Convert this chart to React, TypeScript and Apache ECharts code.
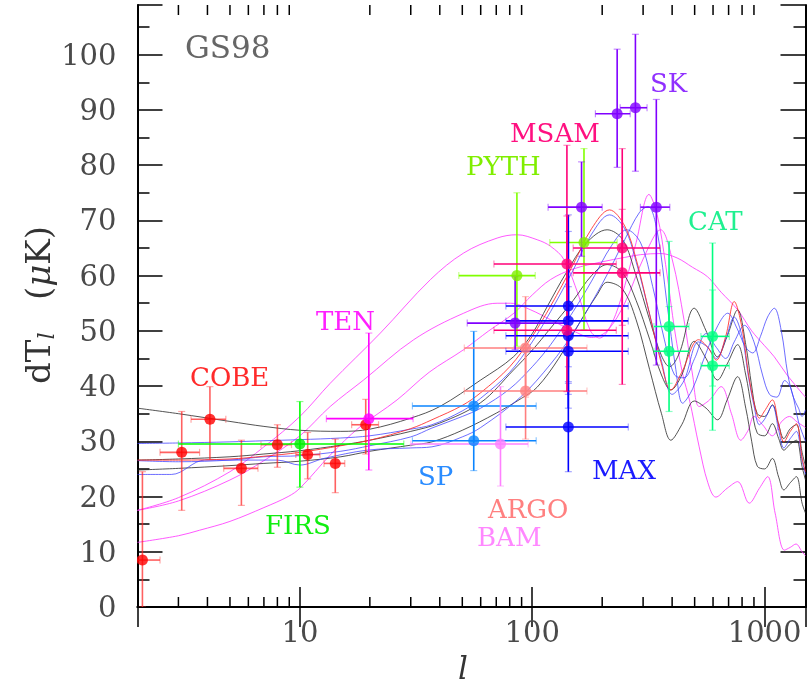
import React, { useEffect, useRef } from 'react';
import * as echarts from 'echarts';

// ---------- axis ticks ----------
const yTickValues = [0, 10, 20, 30, 40, 50, 60, 70, 80, 90, 100];
const xTickLabels = [10, 100, 1000];
const minorTickValues = [3, 4, 5, 6, 7, 8, 9, 20, 30, 40, 50, 60, 70, 80, 90, 200, 300, 400, 500, 600, 700, 800, 900];

// ---------- data points: [l, dT, lLow, lHigh, dTLow, dTHigh] ----------
const cobe = [
  [2.1, 8.5, 2, 2.5, 0, 24.5],
  [3.1, 28.0, 2.5, 3.7, 17.5, 35.4],
  [4.1, 34.0, 3.4, 4.8, 26.7, 39.9],
  [5.6, 25.1, 4.7, 6.6, 18.4, 30.2],
  [8.0, 29.4, 6.8, 9.2, 25.3, 33.0],
  [10.8, 27.6, 9.6, 12.2, 23.2, 31.6],
  [14.2, 26.0, 12.7, 15.6, 20.7, 30.4],
  [19.2, 33.0, 16.7, 21.8, 27.7, 37.6],
];
const firs = [[10, 29.5, 3, 28, 21.7, 37.2]];
const ten = [[19.8, 34.1, 13, 30.7, 24.8, 49.6]];
const sp = [
  [56, 36.4, 30.5, 104, 30, 49.9],
  [56, 30.1, 30.5, 104, 24.7, 36],
];
const bam = [[73, 29.5, 30, 96, 21.9, 39.9]];
const argo = [
  [93.6, 46.9, 51, 172, 38, 56.2],
  [93.6, 39.1, 51, 172, 30.4, 47.5],
];
const maxExp = [
  [143, 54.5, 77, 259, 43.5, 71.0],
  [143, 51.8, 77, 259, 40.8, 68.0],
  [143, 49.1, 77, 259, 38.5, 62.0],
  [143, 46.3, 77, 259, 36.0, 58.0],
  [143, 32.6, 77, 259, 24.5, 40.5],
];
const msam = [
  [141, 62.1, 68.4, 230, 50.5, 83.6],
  [141, 50.1, 68.4, 230, 39.0, 70.8],
  [244, 65.0, 150, 355, 51.0, 83.0],
  [244, 60.5, 150, 355, 40.3, 72.0],
];
const pyth = [
  [85.9, 60.0, 48.3, 103, 47.2, 75.0],
  [167, 66.0, 119, 232, 50.2, 83.0],
];
const sk = [
  [84.4, 51.4, 52.5, 140, 46.6, 59.8],
  [163, 72.4, 117, 200, 63.5, 80.6],
  [232, 89.3, 187, 264, 79.6, 101.0],
  [278, 90.4, 239, 312, 78.9, 103.7],
  [342, 72.4, 292, 391, 43.8, 91.9],
];
const cat = [
  [388, 50.8, 334, 473, 40.5, 66.2],
  [388, 46.3, 334, 473, 35.4, 54.4],
  [597, 49.0, 532, 705, 40.0, 65.9],
  [597, 43.7, 532, 705, 32.0, 57.4],
];

// ---------- model curves: [l, dT] ----------
const curveK1 = [[2,36.0],[3,35.0],[5,33.6],[7,32.7],[10,32.0],[15,31.8],[20,32.2],[30,34.2],[40,36.3],[60,41.1],[83,45.3],[100,49.5],[116,54.4],[140,60.5],[170,65.8],[210,68.3],[245,66.5],[280,60],[320,52],[360,45.5],[390,43.5],[430,46],[498,54.1],[560,50],[627,45.3],[690,49],[765,53.8],[830,47.5],[880,40],[930,35],[1000,34.5],[1080,36.6],[1150,33],[1210,30.5],[1290,32.3],[1370,33],[1450,28],[1500,25.5]];
const curveK2 = [[2,26.6],[3,26.8],[5,27.2],[7,27.7],[10,28.3],[15,29.3],[20,30.2],[30,31.8],[40,33.3],[60,37],[83,42.9],[100,46.5],[120,50.5],[150,55.5],[180,60],[210,62],[245,60.5],[280,55.5],[320,48.5],[360,42],[395,39.3],[440,42],[498,48.1],[560,45],[627,41.1],[690,44],[765,47.5],[830,42],[880,36],[930,31.5],[1000,31],[1080,33.2],[1150,30.5],[1210,28.4],[1290,29.5],[1370,30.2],[1450,25.4],[1500,23]];
const curveK3 = [[2,24.8],[3,25.1],[5,25.6],[7,26],[10,26.4],[15,27.2],[20,28.2],[30,29.3],[37,29.9],[50,32],[70,35.1],[90,37.8],[105,39.8],[130,45],[160,51.5],[190,56.5],[210,58.8],[245,57.5],[280,52],[320,43],[360,35],[395,30.2],[440,33],[498,37.3],[560,36],[627,33.9],[690,37.5],[765,41.7],[830,36],[880,30],[930,25.5],[1000,25],[1080,26.9],[1150,23.5],[1210,21.2],[1290,22.5],[1370,23.6],[1450,18.8],[1500,17]];
const curveR1 = [[2,26.6],[3,26.6],[5,26.8],[7,27.3],[10,28],[15,29.2],[20,30.2],[30,32.3],[37,33.9],[50,36.5],[60,38.8],[80,43.5],[100,49],[120,54.5],[150,62],[180,68.5],[215,71.9],[250,69],[280,63],[320,53],[360,44],[395,39.3],[440,42.5],[520,48.4],[570,47],[620,44.7],[680,49],[740,55.3],[800,50.5],[850,42.5],[900,37],[950,34.2],[1000,35.5],[1080,37.5],[1150,33],[1210,29.9],[1290,31.8],[1370,33.2],[1450,27],[1500,24.5]];
const curveB1 = [[2,29.6],[3,29.7],[5,29.9],[7,30.1],[10,30.3],[15,30.6],[20,31],[30,32.2],[37,33],[50,35.5],[60,37.8],[80,42.5],[100,48],[120,53.5],[150,61],[180,67.5],[215,71],[250,68.5],[280,62.5],[320,53],[360,44.5],[400,38.5],[450,41],[520,48],[570,47],[620,45],[680,48.5],[740,52.5],[800,49],[850,42],[900,36.5],[950,33],[1000,34],[1080,36.5],[1150,32],[1210,28.8],[1290,30.5],[1370,31.8],[1450,26.5],[1500,24]];
const curveB2 = [[2,26.5],[3,26.3],[5,26.6],[7,27.2],[10,27.4],[15,28.2],[20,29.2],[30,30.8],[37,32.4],[50,34.5],[60,36],[80,39.5],[100,43.5],[120,47.5],[150,53.5],[180,59],[220,65.5],[255,68.3],[293,65.9],[330,58],[370,48.5],[410,42],[450,41.5],[500,45],[560,49.5],[620,47],[680,45],[740,48],[820,51],[900,48],[980,42],[1050,38.5],[1130,38],[1220,41],[1300,39.5],[1400,33.5],[1500,30]];
const curveB3 = [[2,24],[2.8,24],[3.9,26.6],[8,26.6],[10,25.7],[12.7,26.9],[19.5,28.4],[30,28.8],[37,29.0],[50,30.8],[60,32.5],[89,38],[120,44],[150,49.6],[200,58.5],[250,66.5],[290,71.5],[315,72.5],[345,68],[380,55],[415,43],[444,36.9],[490,39.5],[560,46],[630,51],[694,53.2],[760,50.5],[830,47],[889,46],[960,49],[1030,52.5],[1101,54.1],[1180,50],[1260,42],[1330,38],[1400,36],[1450,34.5],[1500,35.7]];
const curveM1 = [[2,17.5],[3,19.8],[5,24.5],[7,29],[10,34.5],[13.5,40.5],[22.2,49.6],[36.5,59.3],[50.7,64.1],[70.6,66.8],[86,67.4],[105,66.5],[120,65.3],[137,62.9],[158,56.5],[178,50],[195,48.7],[215,50.5],[240,55.6],[280,66],[318,74.7],[345,71],[375,62],[412,49.6],[445,42],[475,37.5],[523,29],[570,22.5],[617,19.9],[690,21.5],[766,22.7],[859,18.8],[950,21.5],[1031,23.6],[1110,17],[1217,10.3],[1290,10.8],[1365,11.4],[1450,10],[1500,9.3]];
const curveM2 = [[2,17.5],[3,19.2],[5,23],[7,26.5],[10,31],[13.5,36.3],[18.8,41.1],[30.9,48.4],[50.7,53.2],[70.6,55],[80.7,55],[98.5,53.8],[120,52],[150,50],[180,48.8],[210,50],[250,55],[300,63],[357,68.3],[400,63],[450,52],[490,42],[523,36.3],[580,37.5],[650,39.9],[720,35],[790,30.2],[850,32],[900,34.5],[980,33],[1080,31],[1180,33.5],[1280,34.5],[1380,33.5],[1500,32.5]];
const curveM3 = [[2,11.7],[3,12.9],[3.7,13.9],[5,15.5],[7,18],[8.9,20],[10,21.5],[13.5,27.5],[18,32.5],[26.2,37.5],[36,42.5],[50.7,46.6],[65,50],[83.4,53.2],[100,56.5],[120,59.3],[150,61.2],[200,62.5],[250,63.3],[293,63.8],[357,64],[420,63.2],[490,61.5],[568,59.8],[650,57],[766,53.8],[880,50],[1000,47.3],[1101,45.3],[1250,42],[1450,38.7],[1500,38]];

const FONT = '"DejaVu Serif", "Liberation Serif", serif';

const experiments = [
  { data: cobe, dot: '#ff0000', bar: 'rgba(255,30,30,0.7)', cap: 'rgba(255,60,60,0.45)' },
  { data: firs, dot: '#00ee00', bar: '#00ff00', cap: 'rgba(0,255,0,0.45)' },
  { data: ten, dot: '#ff00ff', bar: '#ff00ff', cap: 'rgba(255,0,255,0.45)' },
  { data: sp, dot: '#0a84ff', bar: '#0a84ff', cap: 'rgba(10,132,255,0.45)' },
  { data: bam, dot: '#ff80ff', bar: '#ff80ff', cap: 'rgba(255,128,255,0.45)' },
  { data: argo, dot: '#ff7f7f', bar: '#ff7f7f', cap: 'rgba(255,127,127,0.45)' },
  { data: pyth, dot: '#80ee00', bar: '#80ff00', cap: 'rgba(128,255,0,0.45)' },
  { data: maxExp, dot: '#0000ff', bar: '#0000ff', cap: 'rgba(0,0,255,0.35)' },
  { data: msam, dot: '#ff0077', bar: '#ff0077', cap: 'rgba(255,0,119,0.45)' },
  { data: sk, dot: '#8000ff', bar: '#8000ff', cap: 'rgba(128,0,255,0.45)' },
  { data: cat, dot: '#00ff80', bar: '#00ff80', cap: 'rgba(0,255,128,0.45)' },
];

const curves = [
  { data: curveM3, color: 'rgba(255,60,255,0.85)' },
  { data: curveM2, color: 'rgba(255,60,255,0.85)' },
  { data: curveM1, color: 'rgba(255,60,255,0.85)' },
  { data: curveK1, color: 'rgba(40,40,40,0.8)' },
  { data: curveK2, color: 'rgba(40,40,40,0.8)' },
  { data: curveK3, color: 'rgba(40,40,40,0.8)' },
  { data: curveB1, color: 'rgba(60,60,255,0.75)' },
  { data: curveB2, color: 'rgba(60,60,255,0.75)' },
  { data: curveB3, color: 'rgba(60,60,255,0.75)' },
  { data: curveR1, color: 'rgba(255,40,40,0.85)' },
];

const labels = [
  { text: 'GS98', x: 185, y: 47, color: '#666666', size: 31 },
  { text: 'COBE', x: 190, y: 377, color: '#ff2a2a', size: 26 },
  { text: 'FIRS', x: 265, y: 525, color: '#10ee10', size: 26 },
  { text: 'TEN', x: 316, y: 321, color: '#ff20ff', size: 26 },
  { text: 'SP', x: 418, y: 476, color: '#2a8cff', size: 26 },
  { text: 'ARGO', x: 488, y: 509, color: '#ff8080', size: 26 },
  { text: 'BAM', x: 477, y: 537, color: '#ff88ff', size: 26 },
  { text: 'MAX', x: 592, y: 470, color: '#1a1aff', size: 26 },
  { text: 'MSAM', x: 510, y: 133, color: '#ff1080', size: 26 },
  { text: 'PYTH', x: 466, y: 166, color: '#80ee00', size: 26 },
  { text: 'SK', x: 650, y: 83, color: '#9030ff', size: 26 },
  { text: 'CAT', x: 688, y: 221, color: '#20f090', size: 26 },
];

function errRender(bar: string, cap: string) {
  return (params: any, api: any) => {
    const l = api.value(0);
    const v = api.value(1);
    const a = api.coord([api.value(2), v]);
    const b = api.coord([api.value(3), v]);
    const c = api.coord([l, api.value(4)]);
    const d = api.coord([l, api.value(5)]);
    const h = 3.5;
    const ms = { stroke: bar, lineWidth: 1.6 };
    const cs = { stroke: cap, lineWidth: 1.2 };
    return {
      type: 'group',
      children: [
        { type: 'line', shape: { x1: a[0], y1: a[1], x2: b[0], y2: b[1] }, style: ms },
        { type: 'line', shape: { x1: c[0], y1: c[1], x2: d[0], y2: d[1] }, style: ms },
        { type: 'line', shape: { x1: a[0], y1: a[1] - h, x2: a[0], y2: a[1] + h }, style: cs },
        { type: 'line', shape: { x1: b[0], y1: b[1] - h, x2: b[0], y2: b[1] + h }, style: cs },
        { type: 'line', shape: { x1: c[0] - h, y1: c[1], x2: c[0] + h, y2: c[1] }, style: cs },
        { type: 'line', shape: { x1: d[0] - h, y1: d[1], x2: d[0] + h, y2: d[1] }, style: cs },
      ],
    };
  };
}

export default function App() {
  const ref = useRef<HTMLDivElement>(null);
  useEffect(() => {
    if (!ref.current) return;
    const chart = echarts.init(ref.current, undefined, { renderer: 'svg' });
    const tickLabelStyle = { fontFamily: FONT, fontSize: 29, color: '#4a4a4a' };
    const series: any[] = [];
    curves.forEach((c) => {
      series.push({
        type: 'line',
        data: c.data,
        showSymbol: false,
        smooth: 0.35,
        lineStyle: { color: c.color, width: 1 },
        z: 2,
        silent: true,
      });
    });
    experiments.forEach((e) => {
      series.push({
        type: 'custom',
        data: e.data,
        encode: { x: 0, y: 1 },
        renderItem: errRender(e.bar, e.cap),
        clip: true,
        z: 3,
        silent: true,
      });
    });
    experiments.forEach((e) => {
      series.push({
        type: 'scatter',
        data: e.data.map((d) => [d[0], d[1]]),
        symbol: 'circle',
        symbolSize: 11,
        itemStyle: { color: e.dot },
        z: 4,
        silent: true,
      });
    });
    series.push({
      type: 'custom',
      data: minorTickValues.map((v) => [v, 0]),
      encode: { x: 0, y: 1 },
      renderItem: (params: any, api: any) => {
        const x = api.coord([api.value(0), 0])[0];
        const cs = params.coordSys;
        const st = { stroke: '#000', lineWidth: 1.5 };
        return {
          type: 'group',
          children: [
            { type: 'line', shape: { x1: x, y1: cs.y + cs.height, x2: x, y2: cs.y + cs.height - 10 }, style: st },
            { type: 'line', shape: { x1: x, y1: cs.y, x2: x, y2: cs.y + 10 }, style: st },
          ],
        };
      },
      z: 5,
      silent: true,
    });

    const xBase = {
      type: 'log',
      logBase: 10,
      min: 2,
      max: 1500,
      splitLine: { show: false },
      axisLine: { show: true, lineStyle: { color: '#000', width: 2 } },
      axisTick: { show: true, inside: true, length: 20, lineStyle: { color: '#000', width: 1.5 } },
    };
    const yBase = {
      type: 'value',
      min: 0,
      max: 109,
      interval: 10,
      splitLine: { show: false },
      axisLine: { show: true, lineStyle: { color: '#000', width: 2 } },
      axisTick: { show: true, inside: true, length: 25, lineStyle: { color: '#000', width: 1.5 } },
      minorTick: { show: true, splitNumber: 2, length: 12, lineStyle: { color: '#000', width: 1.5 } },
    };

    chart.setOption({
      animation: false,
      grid: { left: 137.5, right: 1.5, top: 5, bottom: 83, containLabel: false },
      xAxis: [
        {
          ...xBase,
          position: 'bottom',
          axisLabel: {
            show: true,
            margin: 10,
            showMinLabel: false,
            showMaxLabel: false,
            ...tickLabelStyle,
            formatter: (v: number) => {
              const r = Math.round(v);
              return xTickLabels.indexOf(r) >= 0 ? String(r) : '';
            },
          },
        },
        { ...xBase, position: 'top', axisLabel: { show: false } },
      ],
      yAxis: [
        {
          ...yBase,
          position: 'left',
          axisLabel: {
            show: true,
            margin: 21,
            showMaxLabel: false,
            ...tickLabelStyle,
            formatter: (v: number) => (yTickValues.indexOf(v) >= 0 ? String(v) : ''),
          },
        },
        { ...yBase, position: 'right', axisLabel: { show: false } },
      ],
      graphic: [
        ...labels.map((t) => ({
          type: 'text',
          x: t.x,
          y: t.y,
          silent: true,
          style: {
            text: t.text,
            fill: t.color,
            font: `${t.size}px ${FONT}`,
            align: 'left',
            verticalAlign: 'middle',
            textAlign: 'left',
            textVerticalAlign: 'middle',
          },
        })),
        {
          type: 'text',
          x: 463,
          y: 668,
          silent: true,
          style: {
            text: 'l',
            fill: '#333',
            font: `italic 31px ${FONT}`,
            align: 'center',
            verticalAlign: 'middle',
            textAlign: 'center',
            textVerticalAlign: 'middle',
          },
        },
        {
          type: 'text',
          x: 38,
          y: 305,
          rotation: Math.PI / 2,
          silent: true,
          style: {
            text: '{a|dT}{s|l}{a|   (}{m|μ}{a|K)}',
            align: 'center',
            verticalAlign: 'middle',
            textAlign: 'center',
            textVerticalAlign: 'middle',
            rich: {
              a: { font: `34px ${FONT}`, fill: '#333' },
              s: { font: `italic 22px ${FONT}`, fill: '#333', padding: [16, 0, 0, 0] },
              m: { font: `italic 34px ${FONT}`, fill: '#333' },
            },
          },
        },
      ],
      series,
    });
    return () => chart.dispose();
  }, []);
  return <div ref={ref} style={{ position: 'fixed', left: 0, top: 0, width: 807, height: 690 }} />;
}
